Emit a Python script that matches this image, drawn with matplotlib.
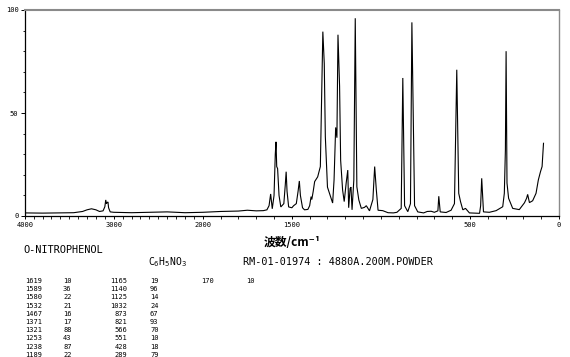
import numpy as np
import matplotlib
matplotlib.use("Agg")
import matplotlib.pyplot as plt
from matplotlib.ticker import FixedLocator

# ---- spectrum (wavenumber cm-1, relative intensity) ----
wavenumber = [4000, 3800, 3600, 3450, 3350, 3300, 3250, 3200, 3160, 3120, 3100, 3090, 3082, 3075,
              3065, 3058, 3040, 3000, 2900, 2800, 2600, 2400, 2200, 2000, 1900, 1800, 1750, 1700,
              1660, 1640, 1628, 1619, 1610, 1600, 1593, 1589, 1585, 1580, 1572, 1562, 1545, 1537,
              1532, 1527, 1518, 1500, 1490, 1475, 1465, 1458, 1452, 1440, 1429, 1410, 1400, 1392,
              1388, 1380, 1372, 1355, 1340, 1335, 1326, 1318, 1312, 1300, 1271, 1263, 1254, 1247,
              1241, 1232, 1226, 1215, 1206, 1195, 1186, 1181, 1173, 1168, 1162, 1152, 1144, 1135,
              1124, 1110, 1092, 1082, 1064, 1045, 1035, 1026, 1016, 990, 960, 930, 910, 886,
              877, 867, 849, 834, 826, 811, 793, 760, 740, 718, 700, 680, 675, 667, 634, 606,
              587, 574, 563, 553, 540, 525, 503, 446, 440, 434, 424, 391, 353, 316, 307, 301,
              297, 292, 283, 260, 223, 194, 182, 176, 166, 148, 129, 116, 104, 95, 87]
intensity = [1.5, 1.4, 1.5, 1.6, 2.2, 3.0, 3.5, 3.0, 2.2, 2.5, 4.5, 7.8, 6.0, 6.5,
             6.8, 4.0, 2.0, 1.8, 1.7, 1.6, 1.8, 2.0, 1.6, 1.8, 2.2, 2.4, 2.8, 2.5,
             2.6, 3.0, 5.0, 10.7, 3.5, 10.0, 30.0, 36.0, 24.0, 23.0, 10.0, 4.4, 6.0, 15.0,
             21.5, 12.0, 4.4, 4.0, 5.0, 6.0, 12.0, 17.0, 10.0, 4.0, 3.0, 3.2, 5.0, 9.4,
             8.0, 12.0, 16.7, 19.0, 24.0, 46.6, 89.5, 74.0, 38.5, 14.0, 6.3, 17.5, 43.0, 38.0,
             88.0, 63.0, 27.0, 12.6, 7.0, 16.0, 22.3, 4.0, 13.4, 14.0, 3.0, 17.5, 96.0, 14.2,
             7.8, 3.7, 4.2, 5.0, 2.5, 8.0, 24.0, 13.0, 2.8, 2.6, 1.6, 1.5, 1.8, 3.7,
             67.0, 5.0, 2.1, 6.0, 94.0, 5.0, 2.0, 1.5, 2.2, 2.3, 1.8, 2.5, 9.6, 2.0, 1.7, 2.8,
             6.0, 71.0, 11.0, 7.0, 3.0, 3.7, 1.5, 1.3, 5.0, 18.3, 2.0, 1.8, 2.6, 4.5, 11.0, 32.0,
             80.0, 16.0, 8.6, 3.7, 3.1, 6.4, 8.6, 10.5, 6.5, 7.4, 11.0, 17.5, 21.5, 24.0, 35.3]

# ---- axes ticks ----
xtick_values = [4000, 3000, 2000, 1500, 500, 0]
xtick_labels = ["4000", "3000", "2000", "1500", "500", "0"]
ytick_values = [0, 50, 100]
ytick_labels = ["0", "50", "100"]

# ---- peak table ----
peak_wn_1 = ["1619", "1589", "1580", "1532", "1467", "1371", "1321", "1253", "1238", "1189"]
peak_int_1 = ["10", "36", "22", "21", "16", "17", "88", "43", "87", "22"]
peak_wn_2 = ["1165", "1140", "1125", "1032", "873", "821", "566", "551", "428", "289"]
peak_int_2 = ["19", "96", "14", "24", "67", "93", "70", "10", "18", "79"]
peak_wn_3 = ["170"]
peak_int_3 = ["10"]

compound = "O-NITROPHENOL"
formula = r"C$_6$H$_5$NO$_3$"
sample_info = "RM-01-01974 : 4880A.200M.POWDER"
xlabel = "波数/cm⁻¹"

W, H = 570, 357
fig = plt.figure(figsize=(W / 100, H / 100), dpi=100)
fig.patch.set_facecolor("white")

left, right, top, bottom = 24.7, 559, 10, 216
ax = fig.add_axes([left / W, 1 - bottom / H, (right - left) / W, (bottom - top) / H])


def fwd(w):
    w = np.asarray(w, dtype=float)
    return np.where(w <= 2000, w, 2000 + (w - 2000) / 2.0)


def inv(p):
    p = np.asarray(p, dtype=float)
    return np.where(p <= 2000, p, 2000 + 2.0 * (p - 2000))


ax.set_xscale("function", functions=(fwd, inv))
ax.plot(wavenumber, intensity, color="black", lw=0.8, solid_joinstyle="miter")
ax.set_xlim(4000, 0)
ax.set_ylim(0, 100)

ax.xaxis.set_major_locator(FixedLocator(xtick_values))
ax.set_xticklabels(xtick_labels)
ax.xaxis.set_minor_locator(FixedLocator(list(range(0, 4001, 100))))
ax.yaxis.set_major_locator(FixedLocator(ytick_values))
ax.set_yticklabels(ytick_labels)
ax.yaxis.set_minor_locator(FixedLocator(list(range(0, 101, 10))))

for lab in ax.get_xticklabels() + ax.get_yticklabels():
    lab.set_fontfamily("DejaVu Sans Mono")
    lab.set_fontsize(5)
ax.tick_params(axis="both", which="major", direction="out", length=3, width=0.7, color="black", pad=1.5)
ax.tick_params(axis="both", which="minor", direction="out", length=1.8, width=0.6, color="black")
ax.tick_params(axis="x", which="major", length=2.5)

for s in ("left", "bottom"):
    ax.spines[s].set_color("black")
    ax.spines[s].set_linewidth(0.9)
ax.spines["top"].set_color("#8a8a8a")
ax.spines["top"].set_linewidth(1.5)
ax.spines["right"].set_color("#8a8a8a")
ax.spines["right"].set_linewidth(1.0)


def fx(px):
    return px / W


def fy(py):
    return 1 - py / H


fig.text(fx(292), fy(242), xlabel, family=["Noto Sans CJK JP", "DejaVu Sans"], fontsize=8.5,
         fontweight="bold", ha="center", va="center")

mono = dict(family="DejaVu Sans Mono", color="black")
fig.text(fx(23), fy(250), compound, fontsize=7.4, va="center", ha="left", **mono)
fig.text(fx(148), fy(262), formula, fontsize=7.0, va="center", ha="left", **mono)
fig.text(fx(243), fy(262), sample_info, fontsize=7.3, va="center", ha="left", **mono)

row0, dy = 281, 8.2
tfs = 5.0
for i in range(len(peak_wn_1)):
    y = fy(row0 + i * dy)
    fig.text(fx(25), y, peak_wn_1[i], fontsize=tfs, va="center", ha="left", **mono)
    fig.text(fx(63), y, peak_int_1[i], fontsize=tfs, va="center", ha="left", **mono)
for i in range(len(peak_wn_2)):
    y = fy(row0 + i * dy)
    fig.text(fx(127), y, peak_wn_2[i], fontsize=tfs, va="center", ha="right", **mono)
    fig.text(fx(150), y, peak_int_2[i], fontsize=tfs, va="center", ha="left", **mono)
for i in range(len(peak_wn_3)):
    y = fy(row0 + i * dy)
    fig.text(fx(201), y, peak_wn_3[i], fontsize=tfs, va="center", ha="left", **mono)
    fig.text(fx(246), y, peak_int_3[i], fontsize=tfs, va="center", ha="left", **mono)

fig.savefig("out.png", dpi=100, facecolor="white")
